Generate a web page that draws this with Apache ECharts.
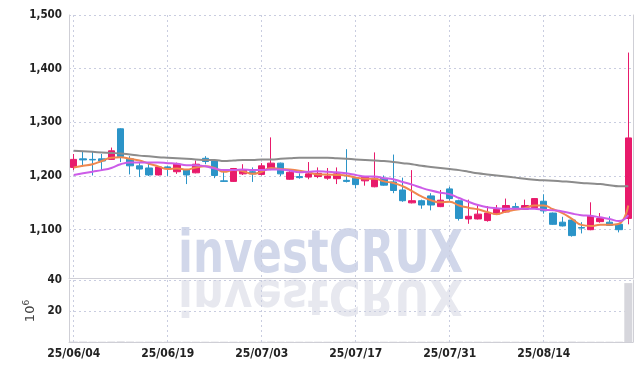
<!DOCTYPE html>
<html>
<head>
<meta charset="utf-8">
<script src="https://cdn.jsdelivr.net/npm/echarts@6/dist/echarts.min.js"></script>
<style>html,body{margin:0;padding:0;background:#fff}#c{width:643px;height:371px}</style>
</head>
<body>
<div id="c"></div>
<script>
const dates = ['25/06/04','25/06/05','25/06/09','25/06/10','25/06/11','25/06/12','25/06/13','25/06/16','25/06/17','25/06/18',
'25/06/19','25/06/20','25/06/23','25/06/24','25/06/25','25/06/26','25/06/27','25/06/30','25/07/01','25/07/02',
'25/07/03','25/07/04','25/07/07','25/07/08','25/07/09','25/07/10','25/07/11','25/07/14','25/07/15','25/07/16',
'25/07/17','25/07/18','25/07/21','25/07/22','25/07/23','25/07/24','25/07/25','25/07/28','25/07/29','25/07/30',
'25/07/31','25/08/01','25/08/04','25/08/05','25/08/06','25/08/07','25/08/08','25/08/11','25/08/12','25/08/13',
'25/08/14','25/08/18','25/08/19','25/08/20','25/08/21','25/08/22','25/08/25','25/08/26','25/08/27','25/08/28'];

const opens = [1216,1232,1231,1232,1231,1288,1232,1219,1215,1202,
1217,1208,1212,1206,1233,1228,1191,1190,1204,1208,
1203,1214,1224,1194,1199,1198,1199,1196,1195,1192,
1196,1191,1180,1196,1189,1174,1150,1154,1163,1143,
1176,1154,1120,1120,1117,1129,1133,1143,1138,1141,
1153,1131,1114,1118,1104,1100,1115,1114,1110,1121];

const closes = [1231,1230,1230,1228,1247,1236,1219,1213,1202,1217,
1215,1222,1202,1222,1227,1201,1190,1214,1212,1204,
1219,1224,1204,1207,1197,1204,1205,1200,1204,1190,
1184,1199,1196,1183,1173,1154,1154,1146,1146,1155,
1158,1121,1125,1129,1131,1138,1145,1141,1145,1158,
1135,1110,1107,1089,1103,1125,1121,1108,1100,1271];

const lows = [1211,1218,1201,1211,1230,1226,1203,1198,1200,1201,
1200,1204,1185,1205,1222,1196,1189,1189,1202,1189,
1201,1211,1200,1193,1195,1194,1196,1193,1185,1188,
1177,1182,1179,1182,1168,1152,1149,1139,1136,1142,
1154,1117,1111,1119,1115,1128,1132,1139,1137,1140,
1130,1109,1106,1087,1093,1099,1113,1107,1095,1110];

const highs = [1241,1245,1245,1241,1253,1289,1237,1224,1226,1218,
1219,1225,1213,1229,1237,1229,1211,1215,1222,1216,
1224,1272,1225,1211,1205,1226,1216,1215,1216,1250,
1197,1200,1244,1201,1240,1197,1211,1156,1168,1174,
1180,1156,1156,1147,1144,1146,1158,1150,1156,1159,
1166,1132,1124,1119,1114,1151,1131,1125,1111,1430];

const ma5 = [1216,1219,1222,1228,1234,1235,1232,1229,1223,1218,
1213,1214,1212,1216,1218,1215,1208,1211,1209,1204,
1208,1215,1213,1212,1210,1207,1203,1203,1202,1201,
1197,1195,1195,1190,1187,1181,1172,1162,1155,1151,
1152,1145,1141,1138,1133,1129,1134,1137,1140,1145,
1145,1138,1131,1120,1109,1107,1109,1109,1111,1145];

const ma10 = [1202,1205,1208,1211,1215,1222,1225,1225,1225,1225,
1224,1223,1220,1220,1218,1214,1211,1211,1212,1211,
1211,1212,1212,1210,1207,1208,1209,1208,1207,1205,
1202,1199,1199,1196,1194,1189,1184,1178,1173,1169,
1166,1159,1152,1146,1142,1140,1139,1139,1139,1139,
1137,1136,1134,1130,1127,1126,1123,1120,1116,1127];

const maLong = [1247,1246,1245,1244,1243,1242,1240,1238,1237,1235,
1234,1233,1232,1231,1230,1230,1228,1229,1230,1230,
1231,1231,1232,1233,1234,1234,1234,1234,1233,1232,
1231,1230,1229,1228,1226,1224,1222,1219,1217,1215,
1213,1211,1208,1205,1203,1201,1199,1197,1195,1193,
1192,1191,1190,1189,1187,1186,1185,1183,1181,1181];

const volumes = [0.3,0.3,0.2,0.2,0.3,0.4,0.3,0.2,0.2,0.2,
0.2,0.2,0.2,0.2,0.2,0.2,0.2,0.2,0.2,0.2,
0.2,0.3,0.2,0.2,0.2,0.2,0.2,0.2,0.2,0.2,
0.2,0.2,0.2,0.2,0.2,0.2,0.2,0.2,0.2,0.2,
0.2,0.3,0.2,0.2,0.2,0.2,0.2,0.2,0.2,0.2,
0.2,0.2,0.2,0.3,0.2,0.2,0.2,0.2,0.2,38];

const priceTicks = [1100,1200,1300,1400,1500];
const volTicks = [20,40];

const candleData = dates.map((d,i)=>[opens[i],closes[i],lows[i],highs[i]]);

const FONT = "'DejaVu Sans Condensed','DejaVu Sans',sans-serif";
const gridLine = {show:true, lineStyle:{color:'#c9cde0', type:[2,3], width:1}};
const axisLineStyle = {show:true, lineStyle:{color:'#cfcfd6', width:1}};
const WM_FONT = "bold 58px 'DejaVu Sans Condensed','DejaVu Sans',sans-serif";

const chart = echarts.init(document.getElementById('c'), null, {renderer:'canvas'});
chart.setOption({
  animation:false,
  backgroundColor:'#ffffff',
  grid:[
    {left:69, right:10, top:15, height:263},
    {left:69, right:10, top:280, height:62}
  ],
  xAxis:[
    {type:'category', data:dates, gridIndex:0, boundaryGap:true,
     axisLine:axisLineStyle, axisTick:{show:false}, axisLabel:{show:false},
     splitLine:{show:true, interval:9, alignWithLabel:true, lineStyle:{color:'#c9cde0', type:[2,3], width:1}}},
    {type:'category', data:dates, gridIndex:1, boundaryGap:true,
     axisLine:axisLineStyle, axisTick:{show:false},
     axisLabel:{show:true, interval:9, color:'#222', fontFamily:FONT, fontWeight:'bold', fontSize:12, margin:6},
     splitLine:{show:true, interval:9, alignWithLabel:true, lineStyle:{color:'#c9cde0', type:[2,3], width:1}}}
  ],
  yAxis:[
    {type:'value', gridIndex:0, min:1010, max:1500,
     axisLine:axisLineStyle, axisTick:{show:false, customValues:priceTicks},
     axisLabel:{customValues:priceTicks, color:'#222', fontFamily:FONT, fontWeight:'bold', fontSize:11.5, margin:7,
       formatter:v=>v.toLocaleString('en-US')},
     splitLine:gridLine},
    {type:'value', gridIndex:1, min:0, max:40,
     axisLine:axisLineStyle, axisTick:{show:false, customValues:volTicks},
     axisLabel:{customValues:volTicks, color:'#222', fontFamily:FONT, fontWeight:'bold', fontSize:11.5, margin:7},
     splitLine:gridLine,
     name:'10{s|6}', nameLocation:'middle', nameRotate:90, nameGap:23,
     nameTextStyle:{color:'#444', fontSize:13, fontFamily:'DejaVu Sans', rich:{s:{fontSize:9, verticalAlign:'top', color:'#444', padding:[0,0,8,0]}}}},
    {type:'value', gridIndex:0, position:'right', min:1010, max:1500, axisLine:axisLineStyle, axisTick:{show:false}, axisLabel:{show:false}, splitLine:{show:false}},
    {type:'value', gridIndex:1, position:'right', min:0, max:40, axisLine:axisLineStyle, axisTick:{show:false}, axisLabel:{show:false}, splitLine:{show:false}}
  ],
  graphic:[
    {type:'text', x:178, y:286, scaleX:0.835, z:0, silent:true,
     style:{text:'investCRUX', fill:'#d1d7ea', font:WM_FONT, textVerticalAlign:'bottom'}},
    {type:'text', x:178, y:268, scaleX:0.835, scaleY:-0.85, z:0, silent:true,
     style:{text:'investCRUX', fill:'#e7e8ef', font:WM_FONT, textVerticalAlign:'bottom'}}
  ],
  series:[
    {type:'candlestick', name:'price', xAxisIndex:0, yAxisIndex:0, data:candleData, barWidth:7, z:3,
     itemStyle:{color:'#e81a6b', color0:'#2b94c8', borderColor:'#e81a6b', borderColor0:'#2b94c8', borderWidth:1}},
    {type:'line', name:'MA5', xAxisIndex:0, yAxisIndex:0, data:ma5, smooth:true, showSymbol:false, z:4,
     lineStyle:{color:'#f0874e', width:2}},
    {type:'line', name:'MA10', xAxisIndex:0, yAxisIndex:0, data:ma10, smooth:true, showSymbol:false, z:4,
     lineStyle:{color:'#cc5ce8', width:2}},
    {type:'line', name:'MA', xAxisIndex:0, yAxisIndex:0, data:maLong, smooth:true, showSymbol:false, z:4,
     lineStyle:{color:'#8c8c8c', width:2}},
    {type:'bar', name:'volume', xAxisIndex:1, yAxisIndex:1, data:volumes, barWidth:8,
     itemStyle:{color:'#d6d6dc'}}
  ]
});
</script>
</body>
</html>
